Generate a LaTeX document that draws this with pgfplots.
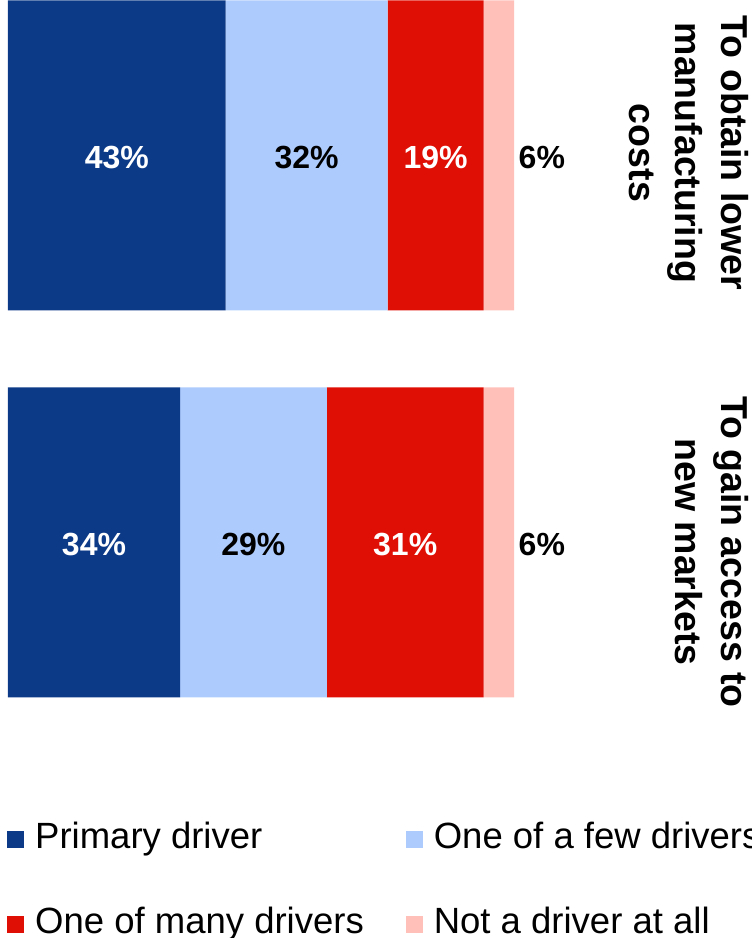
\documentclass[border=0pt]{standalone}
\usepackage{pgfplots}
\pgfplotsset{compat=1.18}
\usepackage{fontspec}
\setmainfont{Liberation Sans}
\definecolor{cDark}{RGB}{12,58,135}
\definecolor{cLight}{RGB}{173,203,252}
\definecolor{cRed}{RGB}{224,15,6}
\definecolor{cPink}{RGB}{255,192,186}
\begin{document}
\begin{tikzpicture}
\useasboundingbox (0,0) rectangle (752pt,938pt);
\pgfplotsset{
  common/.style={
    at={(8pt,0pt)}, anchor=south west,
    scale only axis, width=506pt, height=938pt,
    xmin=0, xmax=100, ymin=-1.02196, ymax=1.40181,
    hide axis, clip=false,
  }
}
\begin{axis}[common,
  xbar stacked, bar width=310pt,
  legend image code/.code={\fill[#1,draw=none] (0pt,-8.5pt) rectangle (17pt,8.5pt);},
  legend columns=2,
  legend cell align=left,
  legend style={draw=none, fill=none, at={(rel axis cs:-0.0079,0.1258)}, anchor=north west,
     font=\fontsize{36.5}{40}\selectfont,
     nodes={inner sep=0pt, text height=26pt, text depth=8pt},
     /tikz/every odd column/.append style={column sep=11pt},
     /tikz/every even column/.append style={column sep=42pt},
     row sep=51pt,
  },
]
\addplot[fill=cDark, draw=none] coordinates {(43,1) (34,0)};
\addlegendentry{Primary driver}
\addplot[fill=cLight, draw=none] coordinates {(32,1) (29,0)};
\addlegendentry{One of a few drivers}
\addplot[fill=cRed, draw=none] coordinates {(19,1) (31,0)};
\addlegendentry{One of many drivers}
\addplot[fill=cPink, draw=none] coordinates {(6,1) (6,0)};
\addlegendentry{Not a driver at all}
\end{axis}
\begin{axis}[common,
  nodes near coords, point meta=explicit symbolic,
  every node near coord/.style={anchor=center, inner sep=0pt, font=\bfseries\fontsize{32}{38}\selectfont},
]
\addplot[draw=none, mark=none, nodes near coords style={text=white}] coordinates {(21.5,0.995) [43\%] (84.5,0.995) [19\%] (17,-0.005) [34\%] (78.5,-0.005) [31\%]};
\addplot[draw=none, mark=none, nodes near coords style={text=black}] coordinates {(59,0.995) [32\%] (105.5,0.995) [6\%] (48.5,-0.005) [29\%] (105.5,-0.005) [6\%]};
\node[rotate=-90, anchor=north, align=center, inner sep=0pt, font=\bfseries\fontsize{37.5}{46}\selectfont] at (axis cs:146.45,1.0065) {To obtain lower\\manufacturing\\costs};
\node[rotate=-90, anchor=north, align=center, inner sep=0pt, font=\bfseries\fontsize{37.5}{46}\selectfont] at (axis cs:146.45,-0.0245) {To gain access to\\new markets};
\end{axis}
\end{tikzpicture}
\end{document}
